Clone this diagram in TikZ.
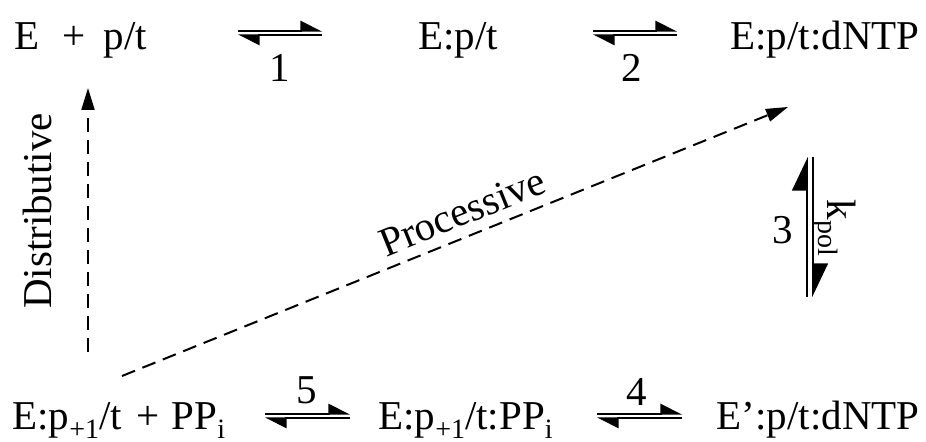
\documentclass[tikz,border=0pt]{standalone}
\usepackage{fontspec}
\setmainfont{Liberation Serif}
\usetikzlibrary{arrows.meta}
\newcommand{\mysub}[1]{\raisebox{-0.45ex}{\fontsize{14}{14}\selectfont #1}}
\begin{document}
\begin{tikzpicture}[x=0.5pt,y=-0.5pt,
  lbl/.style={font=\fontsize{20.5}{24}\selectfont, inner sep=0pt},
  eqline/.style={line width=0.8pt, -{Triangle[harpoon,length=10pt,width=10pt]}},
  vline/.style={line width=0.8pt, -{Triangle[harpoon,length=16pt,width=15pt]}},
  dasharrow/.style={line width=1pt, dash pattern=on 7pt off 4pt, -{Triangle[length=11pt,width=6.5pt]}}
]
\useasboundingbox (0,0) rectangle (926,442);
% species
\node[lbl, anchor=base west] (n1) at (14,50) {E\hspace{0.55em}+\hspace{0.45em}p/t};
\node[lbl, anchor=base west] (n2) at (418,50) {E:p/t};
\node[lbl, anchor=base east] (n3) at (920,50) {E:p/t:dNTP};
\node[lbl, anchor=base west] (n4) at (12,430) {E:p\mysub{+1}/t\hspace{0.35em}+\hspace{0.3em}PP\mysub{i}};
\node[lbl, anchor=base west] (n5) at (378,430) {E:p\mysub{+1}/t:PP\mysub{i}};
\node[lbl, anchor=base east] (n6) at (920,430) {E':p/t:dNTP};
% equilibrium 1
\coordinate (a1l) at (238,33);
\coordinate (a1r) at (322,33);
\draw[eqline] ([yshift=1.1pt]a1l) -- ([yshift=1.1pt]a1r);
\draw[eqline] ([yshift=-1.1pt]a1r) -- ([yshift=-1.1pt]a1l);
\node[lbl, anchor=base] (r1) at (280,82) {1};
% equilibrium 2
\coordinate (a2l) at (593,33);
\coordinate (a2r) at (677,33);
\draw[eqline] ([yshift=1.1pt]a2l) -- ([yshift=1.1pt]a2r);
\draw[eqline] ([yshift=-1.1pt]a2r) -- ([yshift=-1.1pt]a2l);
\node[lbl, anchor=base] (r2) at (632,82) {2};
% equilibrium 3
\coordinate (a3t) at (810,157);
\coordinate (a3b) at (810,297);
\draw[vline] ([xshift=-1.5pt]a3b) -- ([xshift=-1.5pt]a3t);
\draw[vline] ([xshift=1.5pt]a3t) -- ([xshift=1.5pt]a3b);
\node[lbl] (r3) at (783,230) {3};
\node[lbl, rotate=-90] (kp) at (834,228) {k\mysub{pol}};
% equilibrium 5
\coordinate (a5l) at (265,416);
\coordinate (a5r) at (350,416);
\draw[eqline] ([yshift=1.1pt]a5l) -- ([yshift=1.1pt]a5r);
\draw[eqline] ([yshift=-1.1pt]a5r) -- ([yshift=-1.1pt]a5l);
\node[lbl, anchor=base] (r5) at (307,404) {5};
% equilibrium 4
\coordinate (a4l) at (597,416);
\coordinate (a4r) at (682,416);
\draw[eqline] ([yshift=1.1pt]a4l) -- ([yshift=1.1pt]a4r);
\draw[eqline] ([yshift=-1.1pt]a4r) -- ([yshift=-1.1pt]a4l);
\node[lbl, anchor=base] (r4) at (637,406) {4};
% distributive / processive
\coordinate (ds) at (88,352);
\coordinate (de) at (88,88);
\draw[dasharrow] (ds) -- (de);
\node[lbl, rotate=90] (dl) at (37,211) {Distributive};
\coordinate (ps) at (122,376);
\coordinate (pe) at (788,107);
\draw[dasharrow] (ps) -- node[lbl, pos=0.525, sloped, above=5pt] (pl) {Processive} (pe);
\end{tikzpicture}
\end{document}
